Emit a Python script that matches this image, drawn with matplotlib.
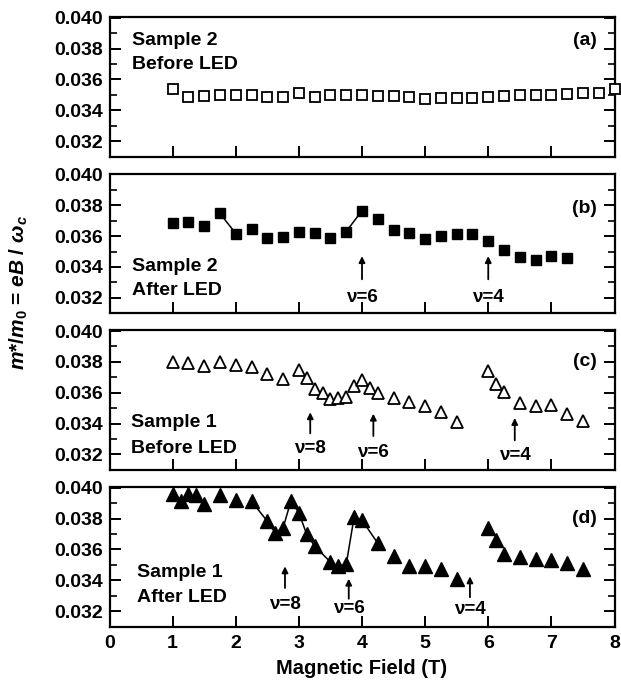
import matplotlib
matplotlib.use("Agg")
import matplotlib.pyplot as plt
from matplotlib.ticker import MultipleLocator

plt.rcParams['font.family'] = ['Liberation Sans', 'DejaVu Sans']
plt.rcParams['font.weight'] = 'bold'
plt.rcParams['mathtext.fontset'] = 'custom'
plt.rcParams['mathtext.rm'] = 'Liberation Sans:bold'
plt.rcParams['mathtext.it'] = 'Liberation Sans:bold:italic'
plt.rcParams['mathtext.bf'] = 'Liberation Sans:bold'

# ---------------- data ----------------
field_a = [1.0, 1.25, 1.5, 1.75, 2.0, 2.25, 2.5, 2.75, 3.0, 3.25, 3.5, 3.75, 4.0, 4.25,
           4.5, 4.75, 5.0, 5.25, 5.5, 5.75, 6.0, 6.25, 6.5, 6.75, 7.0, 7.25, 7.5, 7.75, 8.0]
mass_a = [0.03537, 0.03484, 0.03492, 0.03496, 0.03501, 0.03496, 0.03484, 0.03484, 0.03509,
          0.03484, 0.03496, 0.03501, 0.03496, 0.03492, 0.03492, 0.03484, 0.03475, 0.03480,
          0.03480, 0.03480, 0.03484, 0.03492, 0.03496, 0.03501, 0.03501, 0.03505, 0.03514,
          0.03514, 0.03540]

field_b = [1.0, 1.25, 1.5, 1.75, 2.0, 2.25, 2.5, 2.75, 3.0, 3.25, 3.5, 3.75, 4.0, 4.25,
           4.5, 4.75, 5.0, 5.25, 5.5, 5.75, 6.0, 6.25, 6.5, 6.75, 7.0, 7.25]
mass_b = [0.03682, 0.03691, 0.03665, 0.03747, 0.03617, 0.03648, 0.03587, 0.03596, 0.03626,
          0.03622, 0.03587, 0.03630, 0.03765, 0.03708, 0.03639, 0.03622, 0.03583, 0.03604,
          0.03617, 0.03617, 0.03570, 0.03513, 0.03466, 0.03444, 0.03474, 0.03457]
links_b = [(1.75, 2.0), (3.75, 4.0)]

field_c = [1.0, 1.25, 1.5, 1.75, 2.0, 2.25, 2.5, 2.75, 3.0, 3.125, 3.25, 3.375, 3.5, 3.625,
           3.75, 3.875, 4.0, 4.125, 4.25, 4.5, 4.75, 5.0, 5.25, 5.5,
           6.0, 6.125, 6.25, 6.5, 6.75, 7.0, 7.25, 7.5]
mass_c = [0.03800, 0.03796, 0.03774, 0.03802, 0.03781, 0.03764, 0.03719, 0.03689, 0.03746,
          0.03693, 0.03624, 0.03596, 0.03560, 0.03564, 0.03571, 0.03645, 0.03680, 0.03628,
          0.03596, 0.03568, 0.03542, 0.03516, 0.03478, 0.03413,
          0.03739, 0.03654, 0.03602, 0.03536, 0.03516, 0.03521, 0.03461, 0.03418]

field_d = [1.0, 1.125, 1.25, 1.375, 1.5, 1.75, 2.0, 2.25, 2.5, 2.625, 2.75, 2.875, 3.0,
           3.125, 3.25, 3.5, 3.625, 3.75, 3.875, 4.0, 4.25, 4.5, 4.75, 5.0, 5.25, 5.5,
           6.0, 6.125, 6.25, 6.5, 6.75, 7.0, 7.25, 7.5]
mass_d = [0.03961, 0.03912, 0.03961, 0.03955, 0.03897, 0.03951, 0.03923, 0.03912, 0.03783,
          0.03708, 0.03740, 0.03916, 0.03837, 0.03697, 0.03622, 0.03518, 0.03492, 0.03503,
          0.03810, 0.03790, 0.03640, 0.03560, 0.03490, 0.03490, 0.03470, 0.03410,
          0.03740, 0.03660, 0.03570, 0.03550, 0.03540, 0.03530, 0.03510, 0.03470]
links_d = [(2.25, 4.25)]

# filling-factor arrows: field, tail, head, label height
nu_b = ['ν=6', 'ν=4']
nu_b_x = [4.0, 6.0]
nu_b_tail = [0.0332, 0.0332]
nu_b_head = [0.0347, 0.0347]
nu_b_lab = [0.0320, 0.0320]

nu_c = ['ν=8', 'ν=6', 'ν=4']
nu_c_x = [3.18, 4.18, 6.42]
nu_c_tail = [0.03336, 0.03319, 0.03291]
nu_c_head = [0.03473, 0.03464, 0.03436]
nu_c_lab = [0.03236, 0.03210, 0.03194]

nu_d = ['ν=8', 'ν=6', 'ν=4']
nu_d_x = [2.78, 3.79, 5.71]
nu_d_tail = [0.0335, 0.0328, 0.0329]
nu_d_head = [0.0349, 0.0341, 0.03425]
nu_d_lab = [0.0324, 0.0322, 0.0321]

panel_tags = ['(a)', '(b)', '(c)', '(d)']
sample_text = [('Sample 2', 'Before LED'), ('Sample 2', 'After LED'),
               ('Sample 1', 'Before LED'), ('Sample 1', 'After LED')]

# ---------------- layout ----------------
W, H = 621, 680
fig = plt.figure(figsize=(W / 100, H / 100), dpi=100)
left = 109.5 / W
width = 505.0 / W
ax_h = 139.5
tops = [17.0, 173.7, 330.3, 487.0]
axes = []
for t in tops:
    ax = fig.add_axes([left, 1 - (t + ax_h) / H, width, ax_h / H])
    axes.append(ax)


def style_axis(ax, show_xlabels):
    ax.set_xlim(0, 8)
    ax.set_ylim(0.031, 0.04005)
    ax.yaxis.set_major_locator(MultipleLocator(0.002))
    ax.yaxis.set_minor_locator(MultipleLocator(0.001))
    ax.xaxis.set_major_locator(MultipleLocator(1))
    ax.tick_params(axis='y', which='major', direction='in', length=8, width=1.4,
                   left=True, right=True, labelsize=14, pad=5)
    ax.tick_params(axis='y', which='minor', direction='in', length=5, width=1.2,
                   left=True, right=True)
    ax.tick_params(axis='x', which='major', direction='in', length=8, width=1.4,
                   bottom=True, top=False, labelsize=14, labelbottom=show_xlabels, pad=6)
    ax.set_yticks([0.032, 0.034, 0.036, 0.038, 0.040])
    ax.set_yticklabels(['0.032', '0.034', '0.036', '0.038', '0.040'])
    for sp in ax.spines.values():
        sp.set_linewidth(1.6)


def draw_links(ax, xs, ys, links):
    for lo, hi in links:
        px = [x for x in xs if lo <= x <= hi]
        py = [y for x, y in zip(xs, ys) if lo <= x <= hi]
        ax.plot(px, py, color='black', lw=1.1, zorder=1)


def draw_nu(ax, labels, xs, tails, heads, labs):
    for lab, x, t, h, ly in zip(labels, xs, tails, heads, labs):
        ax.annotate('', xy=(x, h), xytext=(x, t),
                    arrowprops=dict(arrowstyle='-|>', color='black', lw=1.3,
                                    mutation_scale=9, shrinkA=0, shrinkB=0))
        ax.text(x, ly, lab, ha='center', va='center', fontsize=13.5, fontweight='bold')


for i, ax in enumerate(axes):
    style_axis(ax, i == 3)

# (a) open squares
axes[0].plot(field_a, mass_a, ls='none', marker='s', ms=6.5, mfc='white', mec='black',
             mew=1.3, clip_on=False, zorder=3)
# (b) filled squares
draw_links(axes[1], field_b, mass_b, links_b)
axes[1].plot(field_b, mass_b, ls='none', marker='s', ms=7.5, mfc='black', mec='black',
             zorder=3)
# (c) open triangles
axes[2].plot(field_c, mass_c, ls='none', marker='^', ms=9, mfc='white', mec='black',
             mew=1.3, zorder=3)
# (d) filled triangles
draw_links(axes[3], field_d, mass_d, links_d)
axes[3].plot(field_d, mass_d, ls='none', marker='^', ms=10, mfc='black', mec='black',
             zorder=3, clip_on=False)

draw_nu(axes[1], nu_b, nu_b_x, nu_b_tail, nu_b_head, nu_b_lab)
draw_nu(axes[2], nu_c, nu_c_x, nu_c_tail, nu_c_head, nu_c_lab)
draw_nu(axes[3], nu_d, nu_d_x, nu_d_tail, nu_d_head, nu_d_lab)

sample_pos = [(0.36, 0.0385, 0.0370), (0.36, 0.0340, 0.0325),
              (0.34, 0.0341, 0.0324), (0.43, 0.0345, 0.0329)]
tag_y = [0.0385, 0.0378, 0.0380, 0.0380]
for ax, (l1, l2), (sx, y1, y2), tag, ty in zip(axes, sample_text, sample_pos,
                                                panel_tags, tag_y):
    ax.text(sx, y1, l1, ha='left', va='center', fontsize=14, fontweight='bold')
    ax.text(sx, y2, l2, ha='left', va='center', fontsize=14, fontweight='bold')
    ax.text(7.72, ty, tag, ha='right', va='center', fontsize=14, fontweight='bold')

axes[3].set_xlabel('Magnetic Field (T)', fontsize=14.5, fontweight='bold', labelpad=5)
fig.text(0.03, 0.57, r'$m$*/$m_0$ = $eB$ / $\omega_c$', rotation=90,
         ha='center', va='center', fontsize=15, fontweight='bold')

fig.savefig('out.png', dpi=100)
